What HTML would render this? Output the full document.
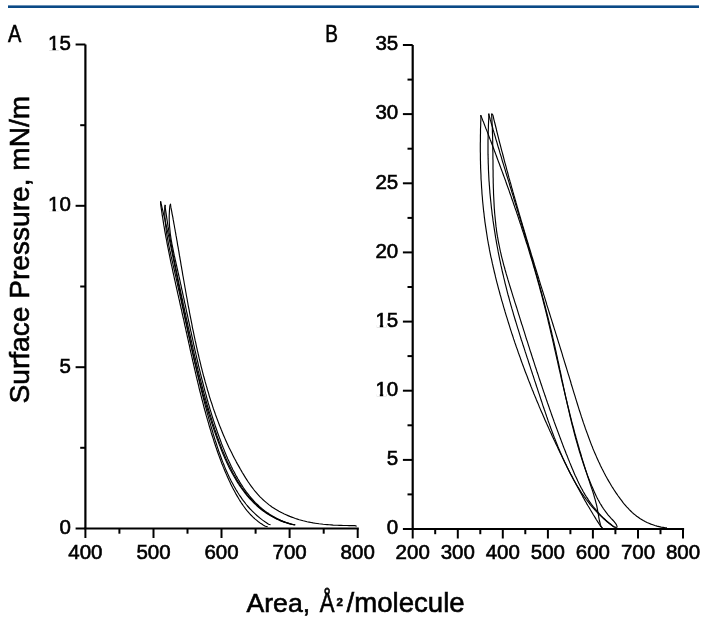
<!DOCTYPE html>
<html><head><meta charset="utf-8"><style>
html,body{margin:0;padding:0;background:#fff;width:709px;height:626px;overflow:hidden}
svg{display:block;font-family:"Liberation Sans",sans-serif;will-change:transform}
text{stroke:#000;stroke-width:0.6px}
.t{stroke-width:0.3px}
</style></head><body>
<svg width="709" height="626" viewBox="0 0 709 626">
<rect x="8" y="5.4" width="691" height="2.6" fill="#0b4a86"/>
<text transform="translate(7.9 41.7) scale(0.86 1)" font-size="23.2">A</text>
<text transform="translate(325.2 41.7) scale(0.82 1)" font-size="23.2">B</text>
<path d="M85.4 44.5 V528.5" stroke="#000" stroke-width="2.2" fill="none"/>
<path d="M84.3 528.5 H358.8" stroke="#000" stroke-width="2.2" fill="none"/>
<path d="M85.4 528.5 V538.0" stroke="#000" stroke-width="2" />
<path d="M153.5 528.5 V538.0" stroke="#000" stroke-width="2" />
<path d="M221.5 528.5 V538.0" stroke="#000" stroke-width="2" />
<path d="M289.6 528.5 V538.0" stroke="#000" stroke-width="2" />
<path d="M357.7 528.5 V538.0" stroke="#000" stroke-width="2" />
<path d="M119.4 528.5 V533.7" stroke="#000" stroke-width="2" />
<path d="M187.5 528.5 V533.7" stroke="#000" stroke-width="2" />
<path d="M255.6 528.5 V533.7" stroke="#000" stroke-width="2" />
<path d="M323.7 528.5 V533.7" stroke="#000" stroke-width="2" />
<path d="M85.4 528.5 H75.6" stroke="#000" stroke-width="2" />
<path d="M85.4 367.2 H75.6" stroke="#000" stroke-width="2" />
<path d="M85.4 205.8 H75.6" stroke="#000" stroke-width="2" />
<path d="M85.4 44.5 H75.6" stroke="#000" stroke-width="2" />
<path d="M85.4 447.8 H80.2" stroke="#000" stroke-width="2" />
<path d="M85.4 286.5 H80.2" stroke="#000" stroke-width="2" />
<path d="M85.4 125.2 H80.2" stroke="#000" stroke-width="2" />
<text x="85.4" y="559.3" font-size="20.5" text-anchor="middle">400</text>
<text x="153.5" y="559.3" font-size="20.5" text-anchor="middle">500</text>
<text x="221.5" y="559.3" font-size="20.5" text-anchor="middle">600</text>
<text x="289.6" y="559.3" font-size="20.5" text-anchor="middle">700</text>
<text x="357.7" y="559.3" font-size="20.5" text-anchor="middle">800</text>
<text x="70.9" y="533.8" font-size="20.5" text-anchor="end">0</text>
<text x="70.9" y="372.5" font-size="20.5" text-anchor="end">5</text>
<text x="70.9" y="211.1" font-size="20.5" text-anchor="end">10</text>
<rect x="48.9" y="208.6" width="3.6" height="3.2" fill="#fff"/>
<rect x="55.9" y="208.6" width="3.2" height="3.2" fill="#fff"/>
<text x="70.9" y="49.8" font-size="20.5" text-anchor="end">15</text>
<rect x="48.9" y="47.3" width="3.6" height="3.2" fill="#fff"/>
<rect x="55.9" y="47.3" width="3.2" height="3.2" fill="#fff"/>
<path d="M412.7 45.0 V529.0" stroke="#000" stroke-width="2.2" fill="none"/>
<path d="M411.6 529.0 H684.1" stroke="#000" stroke-width="2.2" fill="none"/>
<path d="M412.7 529.0 V538.5" stroke="#000" stroke-width="2" />
<path d="M457.8 529.0 V538.5" stroke="#000" stroke-width="2" />
<path d="M502.8 529.0 V538.5" stroke="#000" stroke-width="2" />
<path d="M547.9 529.0 V538.5" stroke="#000" stroke-width="2" />
<path d="M592.9 529.0 V538.5" stroke="#000" stroke-width="2" />
<path d="M638.0 529.0 V538.5" stroke="#000" stroke-width="2" />
<path d="M683.0 529.0 V538.5" stroke="#000" stroke-width="2" />
<path d="M435.2 529.0 V534.2" stroke="#000" stroke-width="2" />
<path d="M480.3 529.0 V534.2" stroke="#000" stroke-width="2" />
<path d="M525.3 529.0 V534.2" stroke="#000" stroke-width="2" />
<path d="M570.4 529.0 V534.2" stroke="#000" stroke-width="2" />
<path d="M615.4 529.0 V534.2" stroke="#000" stroke-width="2" />
<path d="M660.5 529.0 V534.2" stroke="#000" stroke-width="2" />
<path d="M412.7 529.0 H402.9" stroke="#000" stroke-width="2" />
<path d="M412.7 459.9 H402.9" stroke="#000" stroke-width="2" />
<path d="M412.7 390.7 H402.9" stroke="#000" stroke-width="2" />
<path d="M412.7 321.6 H402.9" stroke="#000" stroke-width="2" />
<path d="M412.7 252.4 H402.9" stroke="#000" stroke-width="2" />
<path d="M412.7 183.3 H402.9" stroke="#000" stroke-width="2" />
<path d="M412.7 114.1 H402.9" stroke="#000" stroke-width="2" />
<path d="M412.7 45.0 H402.9" stroke="#000" stroke-width="2" />
<path d="M412.7 494.4 H407.5" stroke="#000" stroke-width="2" />
<path d="M412.7 425.3 H407.5" stroke="#000" stroke-width="2" />
<path d="M412.7 356.1 H407.5" stroke="#000" stroke-width="2" />
<path d="M412.7 287.0 H407.5" stroke="#000" stroke-width="2" />
<path d="M412.7 217.9 H407.5" stroke="#000" stroke-width="2" />
<path d="M412.7 148.7 H407.5" stroke="#000" stroke-width="2" />
<path d="M412.7 79.6 H407.5" stroke="#000" stroke-width="2" />
<text x="412.7" y="559.3" font-size="20.5" text-anchor="middle">200</text>
<text x="457.8" y="559.3" font-size="20.5" text-anchor="middle">300</text>
<text x="502.8" y="559.3" font-size="20.5" text-anchor="middle">400</text>
<text x="547.9" y="559.3" font-size="20.5" text-anchor="middle">500</text>
<text x="592.9" y="559.3" font-size="20.5" text-anchor="middle">600</text>
<text x="638.0" y="559.3" font-size="20.5" text-anchor="middle">700</text>
<text x="683.0" y="559.3" font-size="20.5" text-anchor="middle">800</text>
<text x="398.2" y="534.3" font-size="20.5" text-anchor="end">0</text>
<text x="398.2" y="465.2" font-size="20.5" text-anchor="end">5</text>
<text x="398.2" y="396.0" font-size="20.5" text-anchor="end">10</text>
<rect x="376.2" y="393.5" width="3.6" height="3.2" fill="#fff"/>
<rect x="383.2" y="393.5" width="3.2" height="3.2" fill="#fff"/>
<text x="398.2" y="326.9" font-size="20.5" text-anchor="end">15</text>
<rect x="376.2" y="324.4" width="3.6" height="3.2" fill="#fff"/>
<rect x="383.2" y="324.4" width="3.2" height="3.2" fill="#fff"/>
<text x="398.2" y="257.7" font-size="20.5" text-anchor="end">20</text>
<text x="398.2" y="188.6" font-size="20.5" text-anchor="end">25</text>
<text x="398.2" y="119.4" font-size="20.5" text-anchor="end">30</text>
<text x="398.2" y="50.3" font-size="20.5" text-anchor="end">35</text>
<text x="246.5" y="611.8" font-size="26.6">Area,</text>
<text transform="translate(319.8 611.8) scale(0.82 1)" font-size="27">Å</text>
<text x="336.6" y="605.6" font-size="11.5" font-weight="bold">2</text>
<text x="346.6" y="611.8" font-size="27.6">/molecule</text>
<text transform="translate(29 403.4) rotate(-90)" x="0" y="0" font-size="28.1">Surface Pressure, mN/m</text>
<path d="M480.7 115.1 L480.9 117.1 L480.9 119.1 L480.8 121.1 L480.7 123.2 L480.7 125.2 L480.6 127.2 L480.5 129.3 L480.5 131.3 L480.5 133.3 L480.4 135.3 L480.4 137.4 L480.4 139.4 L480.4 141.4 L480.3 143.4 L480.3 145.4 L480.3 147.5 L480.3 149.5 L480.3 151.5 L480.4 153.5 L480.4 155.5 L480.4 157.5 L480.4 159.6 L480.5 161.6 L480.5 163.6 L480.6 165.6 L480.6 167.6 L480.7 169.6 L480.8 171.6 L480.9 173.6 L481.0 175.7 L481.0 177.7 L481.1 179.7 L481.3 181.7 L481.4 183.7 L481.5 185.7 L481.6 187.7 L481.8 189.7 L481.9 191.7 L482.0 193.7 L482.2 195.7 L482.4 197.7 L482.5 199.7 L482.7 201.7 L482.9 203.7 L483.1 205.7 L483.3 207.7 L483.5 209.7 L483.7 211.7 L484.0 213.7 L484.2 215.7 L484.4 217.7 L484.7 219.6 L484.9 221.6 L485.2 223.6 L485.5 225.6 L485.8 227.6 L486.1 229.6 L486.4 231.6 L486.7 233.5 L487.0 235.5 L487.3 237.5 L487.6 239.5 L488.0 241.5 L488.3 243.4 L488.7 245.4 L489.1 247.4 L489.4 249.4 L489.8 251.3 L490.2 253.3 L490.6 255.3 L491.0 257.3 L491.5 259.2 L491.9 261.2 L492.3 263.2 L492.8 265.1 L493.2 267.1 L493.7 269.1 L494.1 271.0 L494.6 273.0 L495.1 274.9 L495.5 276.9 L496.0 278.9 L496.5 280.8 L497.0 282.8 L497.5 284.7 L498.0 286.7 L498.5 288.6 L499.1 290.6 L499.6 292.5 L500.1 294.5 L500.7 296.4 L501.2 298.3 L501.7 300.3 L502.3 302.2 L502.9 304.2 L503.4 306.1 L504.0 308.1 L504.6 310.0 L505.1 311.9 L505.7 313.9 L506.3 315.8 L506.9 317.7 L507.5 319.6 L508.1 321.6 L508.7 323.5 L509.3 325.4 L509.9 327.3 L510.5 329.3 L511.1 331.2 L511.7 333.1 L512.4 335.0 L513.0 336.9 L513.6 338.9 L514.3 340.8 L514.9 342.7 L515.6 344.6 L516.2 346.5 L516.9 348.4 L517.6 350.3 L518.2 352.2 L518.9 354.1 L519.6 356.0 L520.3 357.9 L520.9 359.8 L521.6 361.7 L522.3 363.6 L523.0 365.5 L523.7 367.4 L524.4 369.3 L525.1 371.2 L525.8 373.1 L526.6 374.9 L527.3 376.8 L528.0 378.7 L528.7 380.6 L529.5 382.5 L530.2 384.3 L530.9 386.2 L531.7 388.1 L532.4 390.0 L533.2 391.8 L533.9 393.7 L534.7 395.6 L535.5 397.4 L536.2 399.3 L537.0 401.2 L537.8 403.0 L538.6 404.9 L539.3 406.7 L540.1 408.6 L540.9 410.4 L541.7 412.3 L542.5 414.1 L543.3 416.0 L544.1 417.8 L544.9 419.7 L545.7 421.5 L546.5 423.3 L547.4 425.2 L548.2 427.0 L549.0 428.9 L549.8 430.7 L550.7 432.5 L551.5 434.3 L552.3 436.2 L553.2 438.0 L554.0 439.8 L554.9 441.6 L555.7 443.5 L556.6 445.3 L557.5 447.1 L558.3 448.9 L559.2 450.7 L560.0 452.5 L560.9 454.3 L561.8 456.1 L562.7 457.9 L563.6 459.7 L564.4 461.5 L565.3 463.3 L566.2 465.1 L567.1 466.9 L568.0 468.7 L568.9 470.5 L569.8 472.3 L570.7 474.1 L571.7 475.8 L572.6 477.6 L573.5 479.4 L574.4 481.2 L575.4 482.9 L576.3 484.7 L577.3 486.5 L578.2 488.3 L579.2 490.0 L580.1 491.8 L581.1 493.5 L582.1 495.3 L583.0 497.1 L584.0 498.8 L585.0 500.6 L586.0 502.3 L587.0 504.1 L588.0 505.8 L589.1 507.5 L590.1 509.3 L591.1 511.0 L592.2 512.8 L593.2 514.5 L594.3 516.2 L595.3 517.9 L596.4 519.7 L597.5 521.4 L598.6 523.1 L599.7 524.8 L600.8 526.6 L602.4 527.8" fill="none" stroke="#000" stroke-width="1.15" stroke-linejoin="round"/>
<path d="M488.7 113.6 L488.9 115.4 L488.8 117.5 L488.7 119.6 L488.6 121.6 L488.5 123.7 L488.4 125.8 L488.4 127.8 L488.3 129.9 L488.2 131.9 L488.2 134.0 L488.1 136.0 L488.1 138.1 L488.0 140.1 L488.0 142.2 L488.0 144.2 L488.0 146.2 L488.0 148.3 L488.0 150.3 L488.0 152.3 L488.0 154.4 L488.1 156.4 L488.1 158.4 L488.2 160.4 L488.2 162.5 L488.3 164.5 L488.4 166.5 L488.4 168.5 L488.5 170.5 L488.6 172.5 L488.7 174.6 L488.8 176.6 L488.9 178.6 L489.0 180.6 L489.2 182.6 L489.3 184.6 L489.5 186.6 L489.6 188.6 L489.8 190.6 L489.9 192.6 L490.1 194.6 L490.3 196.6 L490.5 198.6 L490.7 200.6 L490.9 202.5 L491.1 204.5 L491.3 206.5 L491.5 208.5 L491.8 210.5 L492.0 212.5 L492.2 214.5 L492.5 216.4 L492.8 218.4 L493.0 220.4 L493.3 222.4 L493.6 224.3 L493.9 226.3 L494.2 228.3 L494.5 230.3 L494.8 232.2 L495.1 234.2 L495.4 236.2 L495.7 238.2 L496.1 240.1 L496.4 242.1 L496.8 244.1 L497.1 246.0 L497.5 248.0 L497.9 250.0 L498.2 251.9 L498.6 253.9 L499.0 255.8 L499.4 257.8 L499.8 259.8 L500.2 261.7 L500.6 263.7 L501.0 265.7 L501.5 267.6 L501.9 269.6 L502.3 271.5 L502.8 273.5 L503.3 275.5 L503.7 277.4 L504.2 279.4 L504.7 281.3 L505.1 283.3 L505.6 285.2 L506.1 287.2 L506.6 289.2 L507.1 291.1 L507.6 293.1 L508.1 295.0 L508.7 297.0 L509.2 298.9 L509.7 300.9 L510.3 302.9 L510.8 304.8 L511.4 306.8 L511.9 308.7 L512.5 310.7 L513.1 312.6 L513.6 314.6 L514.2 316.5 L514.8 318.5 L515.4 320.5 L516.0 322.4 L516.6 324.4 L517.2 326.3 L517.8 328.3 L518.4 330.2 L519.0 332.2 L519.6 334.1 L520.2 336.1 L520.8 338.0 L521.4 340.0 L522.1 341.9 L522.7 343.9 L523.3 345.8 L524.0 347.8 L524.6 349.7 L525.2 351.7 L525.9 353.6 L526.5 355.6 L527.1 357.5 L527.8 359.4 L528.4 361.4 L529.0 363.3 L529.7 365.3 L530.3 367.2 L530.9 369.1 L531.6 371.1 L532.2 373.0 L532.8 374.9 L533.5 376.8 L534.1 378.8 L534.7 380.7 L535.4 382.6 L536.0 384.5 L536.6 386.5 L537.3 388.4 L537.9 390.3 L538.5 392.2 L539.2 394.1 L539.8 396.0 L540.4 397.9 L541.0 399.8 L541.7 401.7 L542.3 403.7 L542.9 405.6 L543.6 407.5 L544.2 409.3 L544.9 411.2 L545.5 413.1 L546.2 415.0 L546.8 416.9 L547.5 418.8 L548.1 420.7 L548.8 422.6 L549.5 424.4 L550.1 426.3 L550.8 428.2 L551.5 430.0 L552.2 431.9 L552.9 433.8 L553.6 435.6 L554.3 437.5 L555.1 439.4 L555.8 441.2 L556.5 443.1 L557.3 444.9 L558.0 446.7 L558.8 448.6 L559.6 450.4 L560.3 452.3 L561.1 454.1 L561.9 455.9 L562.7 457.7 L563.5 459.6 L564.4 461.4 L565.2 463.2 L566.1 465.0 L566.9 466.8 L567.8 468.6 L568.7 470.4 L569.6 472.2 L570.5 474.0 L571.5 475.8 L572.4 477.5 L573.4 479.3 L574.4 481.0 L575.4 482.8 L576.4 484.5 L577.4 486.2 L578.5 487.9 L579.5 489.6 L580.6 491.3 L581.7 493.0 L582.8 494.6 L584.0 496.3 L585.2 497.9 L586.3 499.5 L587.6 501.1 L588.8 502.7 L590.0 504.3 L591.3 505.8 L592.6 507.4 L594.0 508.9 L595.3 510.4 L596.7 511.9 L598.1 513.3 L599.5 514.8 L601.0 516.2 L602.5 517.6 L604.0 519.0 L605.5 520.3 L607.1 521.7 L608.7 523.0 L610.3 524.3 L612.0 525.6 L613.7 526.8 L615.7 527.3" fill="none" stroke="#000" stroke-width="1.15" stroke-linejoin="round"/>
<path d="M491.6 113.6 L491.7 115.4 L491.8 117.5 L491.9 119.5 L492.0 121.6 L492.1 123.7 L492.2 125.7 L492.3 127.8 L492.4 129.9 L492.4 131.9 L492.5 134.0 L492.6 136.0 L492.6 138.1 L492.7 140.1 L492.7 142.2 L492.7 144.2 L492.8 146.3 L492.8 148.3 L492.8 150.4 L492.9 152.4 L492.9 154.4 L492.9 156.5 L492.9 158.5 L493.0 160.5 L493.0 162.5 L493.0 164.6 L493.0 166.6 L493.0 168.6 L493.1 170.6 L493.1 172.6 L493.1 174.6 L493.1 176.6 L493.2 178.7 L493.2 180.7 L493.2 182.7 L493.3 184.7 L493.3 186.7 L493.4 188.7 L493.5 190.7 L493.5 192.7 L493.6 194.7 L493.7 196.7 L493.8 198.6 L493.9 200.6 L494.0 202.6 L494.1 204.6 L494.2 206.6 L494.3 208.6 L494.5 210.6 L494.6 212.5 L494.8 214.5 L495.0 216.5 L495.2 218.5 L495.4 220.5 L495.6 222.4 L495.8 224.4 L496.0 226.4 L496.3 228.3 L496.5 230.3 L496.8 232.3 L497.1 234.3 L497.4 236.2 L497.8 238.2 L498.1 240.1 L498.5 242.1 L498.9 244.1 L499.3 246.0 L499.7 248.0 L500.1 250.0 L500.5 251.9 L501.0 253.9 L501.4 255.8 L501.9 257.8 L502.4 259.7 L502.9 261.7 L503.4 263.6 L503.9 265.6 L504.5 267.5 L505.0 269.5 L505.6 271.5 L506.1 273.4 L506.7 275.4 L507.3 277.3 L507.8 279.2 L508.4 281.2 L509.0 283.1 L509.6 285.1 L510.2 287.0 L510.8 289.0 L511.4 290.9 L512.0 292.9 L512.6 294.8 L513.2 296.8 L513.8 298.7 L514.4 300.7 L515.0 302.6 L515.7 304.6 L516.3 306.5 L516.9 308.4 L517.5 310.4 L518.1 312.3 L518.7 314.3 L519.3 316.2 L519.9 318.2 L520.5 320.1 L521.1 322.0 L521.7 324.0 L522.4 325.9 L523.0 327.9 L523.6 329.8 L524.2 331.7 L524.8 333.7 L525.4 335.6 L526.0 337.6 L526.6 339.5 L527.3 341.4 L527.9 343.4 L528.5 345.3 L529.1 347.2 L529.7 349.2 L530.3 351.1 L531.0 353.0 L531.6 355.0 L532.2 356.9 L532.8 358.8 L533.5 360.8 L534.1 362.7 L534.7 364.6 L535.3 366.5 L536.0 368.5 L536.6 370.4 L537.2 372.3 L537.9 374.2 L538.5 376.1 L539.1 378.1 L539.8 380.0 L540.4 381.9 L541.0 383.8 L541.7 385.7 L542.3 387.6 L543.0 389.6 L543.6 391.5 L544.3 393.4 L544.9 395.3 L545.6 397.2 L546.2 399.1 L546.9 401.0 L547.5 402.9 L548.2 404.8 L548.9 406.7 L549.5 408.6 L550.2 410.5 L550.9 412.4 L551.5 414.3 L552.2 416.2 L552.9 418.1 L553.6 420.0 L554.2 421.9 L554.9 423.7 L555.6 425.6 L556.3 427.5 L557.0 429.4 L557.7 431.3 L558.4 433.1 L559.1 435.0 L559.8 436.9 L560.5 438.8 L561.2 440.6 L561.9 442.5 L562.6 444.4 L563.3 446.2 L564.0 448.1 L564.8 450.0 L565.5 451.8 L566.2 453.7 L567.0 455.5 L567.7 457.4 L568.4 459.2 L569.2 461.1 L569.9 462.9 L570.7 464.8 L571.4 466.6 L572.2 468.4 L573.0 470.3 L573.7 472.1 L574.5 473.9 L575.3 475.7 L576.2 477.5 L577.0 479.3 L577.8 481.1 L578.7 482.9 L579.6 484.7 L580.5 486.4 L581.4 488.2 L582.4 489.9 L583.3 491.7 L584.3 493.4 L585.3 495.1 L586.4 496.8 L587.5 498.4 L588.5 500.1 L589.7 501.8 L590.8 503.4 L592.0 505.0 L593.2 506.6 L594.5 508.2 L595.8 509.7 L597.1 511.3 L598.5 512.8 L599.9 514.3 L601.3 515.8 L602.8 517.3 L604.3 518.7 L605.9 520.2 L607.5 521.6 L609.1 523.0 L610.8 524.3 L612.5 525.7 L614.3 527.0 L616.0 527.5" fill="none" stroke="#000" stroke-width="1.15" stroke-linejoin="round"/>
<path d="M480.7 115.1 L481.5 117.1 L482.2 118.9 L482.9 120.8 L483.7 122.6 L484.4 124.5 L485.1 126.4 L485.8 128.2 L486.6 130.1 L487.3 131.9 L488.0 133.8 L488.7 135.7 L489.4 137.5 L490.1 139.4 L490.9 141.3 L491.6 143.2 L492.3 145.0 L493.0 146.9 L493.7 148.8 L494.4 150.7 L495.1 152.5 L495.8 154.4 L496.5 156.3 L497.2 158.2 L497.9 160.1 L498.6 162.0 L499.3 163.8 L500.0 165.7 L500.7 167.6 L501.4 169.5 L502.1 171.4 L502.8 173.3 L503.5 175.2 L504.2 177.1 L504.9 179.0 L505.6 180.9 L506.2 182.8 L506.9 184.7 L507.6 186.6 L508.3 188.5 L509.0 190.4 L509.6 192.3 L510.3 194.2 L511.0 196.1 L511.6 198.0 L512.3 200.0 L513.0 201.9 L513.6 203.8 L514.3 205.7 L514.9 207.6 L515.6 209.5 L516.3 211.4 L516.9 213.4 L517.6 215.3 L518.2 217.2 L518.8 219.1 L519.5 221.1 L520.1 223.0 L520.8 224.9 L521.4 226.8 L522.0 228.8 L522.6 230.7 L523.3 232.6 L523.9 234.5 L524.5 236.5 L525.1 238.4 L525.7 240.3 L526.3 242.3 L527.0 244.2 L527.6 246.1 L528.2 248.1 L528.8 250.0 L529.3 251.9 L529.9 253.9 L530.5 255.8 L531.1 257.8 L531.7 259.7 L532.3 261.6 L532.9 263.6 L533.4 265.5 L534.0 267.5 L534.6 269.4 L535.1 271.4 L535.7 273.3 L536.2 275.2 L536.8 277.2 L537.3 279.1 L537.9 281.1 L538.4 283.0 L539.0 285.0 L539.5 286.9 L540.0 288.9 L540.5 290.8 L541.1 292.8 L541.6 294.7 L542.1 296.7 L542.6 298.6 L543.1 300.6 L543.6 302.5 L544.1 304.5 L544.6 306.4 L545.1 308.4 L545.6 310.3 L546.1 312.3 L546.5 314.2 L547.0 316.2 L547.5 318.2 L548.0 320.1 L548.4 322.1 L548.9 324.0 L549.4 326.0 L549.8 327.9 L550.3 329.9 L550.7 331.9 L551.2 333.8 L551.7 335.8 L552.1 337.7 L552.6 339.7 L553.0 341.6 L553.5 343.6 L553.9 345.6 L554.3 347.5 L554.8 349.5 L555.2 351.4 L555.7 353.4 L556.1 355.3 L556.6 357.3 L557.0 359.3 L557.5 361.2 L557.9 363.2 L558.3 365.1 L558.8 367.1 L559.2 369.1 L559.7 371.0 L560.1 373.0 L560.6 374.9 L561.0 376.9 L561.4 378.8 L561.9 380.8 L562.3 382.8 L562.8 384.7 L563.3 386.7 L563.7 388.6 L564.2 390.6 L564.6 392.5 L565.1 394.5 L565.5 396.5 L566.0 398.4 L566.5 400.4 L567.0 402.3 L567.4 404.3 L567.9 406.2 L568.4 408.2 L568.9 410.1 L569.4 412.1 L569.8 414.0 L570.3 416.0 L570.8 418.0 L571.3 419.9 L571.8 421.9 L572.3 423.8 L572.9 425.8 L573.4 427.7 L573.9 429.7 L574.4 431.6 L574.9 433.6 L575.5 435.5 L576.0 437.5 L576.6 439.4 L577.1 441.3 L577.7 443.3 L578.2 445.2 L578.8 447.2 L579.3 449.1 L579.9 451.1 L580.5 453.0 L581.1 455.0 L581.6 456.9 L582.2 458.8 L582.8 460.8 L583.4 462.7 L584.0 464.7 L584.6 466.6 L585.2 468.5 L585.8 470.5 L586.4 472.4 L587.1 474.4 L587.7 476.3 L588.3 478.2 L589.0 480.2 L589.6 482.1 L590.2 484.0 L590.9 486.0 L591.5 487.9 L592.2 489.8 L592.8 491.7 L593.4 493.7 L594.0 495.6 L594.5 497.5 L595.1 499.4 L595.6 501.4 L596.1 503.3 L596.6 505.2 L597.0 507.1 L597.4 509.1 L597.7 511.0 L598.1 512.9 L598.4 514.8 L598.7 516.7 L599.0 518.6 L599.4 520.5 L599.9 522.5 L600.4 524.4 L601.0 526.3 L602.4 528.0" fill="none" stroke="#000" stroke-width="1.15" stroke-linejoin="round"/>
<path d="M488.7 113.6 L489.1 115.6 L489.7 117.5 L490.2 119.5 L490.8 121.4 L491.3 123.3 L491.9 125.3 L492.5 127.2 L493.0 129.2 L493.6 131.1 L494.1 133.0 L494.7 135.0 L495.3 136.9 L495.8 138.8 L496.4 140.8 L497.0 142.7 L497.5 144.6 L498.1 146.6 L498.7 148.5 L499.3 150.4 L499.8 152.4 L500.4 154.3 L501.0 156.2 L501.6 158.1 L502.1 160.1 L502.7 162.0 L503.3 163.9 L503.9 165.8 L504.5 167.8 L505.1 169.7 L505.6 171.6 L506.2 173.5 L506.8 175.5 L507.4 177.4 L508.0 179.3 L508.6 181.2 L509.2 183.1 L509.7 185.1 L510.3 187.0 L510.9 188.9 L511.5 190.8 L512.1 192.8 L512.7 194.7 L513.3 196.6 L513.8 198.5 L514.4 200.4 L515.0 202.4 L515.6 204.3 L516.2 206.2 L516.8 208.1 L517.4 210.0 L518.0 212.0 L518.5 213.9 L519.1 215.8 L519.7 217.7 L520.3 219.6 L520.9 221.6 L521.5 223.5 L522.0 225.4 L522.6 227.3 L523.2 229.3 L523.8 231.2 L524.4 233.1 L524.9 235.0 L525.5 236.9 L526.1 238.9 L526.7 240.8 L527.2 242.7 L527.8 244.6 L528.4 246.6 L528.9 248.5 L529.5 250.4 L530.1 252.4 L530.6 254.3 L531.2 256.2 L531.8 258.1 L532.3 260.1 L532.9 262.0 L533.5 263.9 L534.0 265.9 L534.6 267.8 L535.1 269.7 L535.7 271.7 L536.2 273.6 L536.8 275.5 L537.3 277.5 L537.8 279.4 L538.4 281.4 L538.9 283.3 L539.5 285.2 L540.0 287.2 L540.5 289.1 L541.1 291.1 L541.6 293.0 L542.1 295.0 L542.6 296.9 L543.2 298.9 L543.7 300.8 L544.2 302.8 L544.7 304.7 L545.2 306.7 L545.7 308.6 L546.2 310.6 L546.7 312.5 L547.2 314.5 L547.7 316.5 L548.2 318.4 L548.7 320.4 L549.2 322.4 L549.7 324.3 L550.1 326.3 L550.6 328.3 L551.1 330.2 L551.6 332.2 L552.0 334.2 L552.5 336.1 L552.9 338.1 L553.4 340.1 L553.9 342.1 L554.3 344.1 L554.7 346.0 L555.2 348.0 L555.6 350.0 L556.1 352.0 L556.5 354.0 L556.9 356.0 L557.4 358.0 L557.8 360.0 L558.2 362.0 L558.7 363.9 L559.1 365.9 L559.5 367.9 L559.9 369.9 L560.4 371.9 L560.8 373.9 L561.2 375.9 L561.6 377.9 L562.0 379.9 L562.5 381.9 L562.9 383.9 L563.3 385.8 L563.7 387.8 L564.2 389.8 L564.6 391.8 L565.0 393.8 L565.5 395.8 L565.9 397.8 L566.3 399.7 L566.8 401.7 L567.2 403.7 L567.7 405.7 L568.1 407.6 L568.6 409.6 L569.0 411.6 L569.5 413.6 L569.9 415.5 L570.4 417.5 L570.9 419.4 L571.3 421.4 L571.8 423.3 L572.3 425.3 L572.8 427.2 L573.3 429.2 L573.8 431.1 L574.3 433.1 L574.8 435.0 L575.3 436.9 L575.8 438.9 L576.4 440.8 L576.9 442.7 L577.5 444.6 L578.0 446.5 L578.6 448.4 L579.1 450.4 L579.7 452.3 L580.3 454.1 L580.9 456.0 L581.5 457.9 L582.1 459.8 L582.7 461.7 L583.3 463.5 L583.9 465.4 L584.6 467.3 L585.2 469.1 L585.9 471.0 L586.6 472.8 L587.2 474.7 L587.9 476.5 L588.6 478.3 L589.3 480.1 L590.1 481.9 L590.8 483.7 L591.5 485.5 L592.3 487.3 L593.1 489.1 L593.9 490.9 L594.7 492.7 L595.5 494.5 L596.3 496.2 L597.2 498.0 L598.1 499.7 L599.1 501.4 L600.0 503.2 L601.1 504.9 L602.1 506.6 L603.2 508.3 L604.4 510.0 L605.6 511.7 L606.9 513.4 L608.2 515.1 L609.6 516.7 L611.1 518.4 L612.7 520.0 L614.2 521.7 L615.5 523.3 L616.5 524.9 L617.1 526.6 L616.5 528.0" fill="none" stroke="#000" stroke-width="1.15" stroke-linejoin="round"/>
<path d="M491.6 113.6 L492.9 115.1 L493.4 117.1 L493.8 119.1 L494.3 121.1 L494.8 123.0 L495.3 125.0 L495.8 127.0 L496.3 129.0 L496.7 131.0 L497.2 132.9 L497.7 134.9 L498.2 136.9 L498.7 138.8 L499.2 140.8 L499.7 142.8 L500.2 144.7 L500.7 146.7 L501.2 148.6 L501.7 150.6 L502.3 152.6 L502.8 154.5 L503.3 156.5 L503.8 158.4 L504.3 160.4 L504.8 162.3 L505.4 164.3 L505.9 166.2 L506.4 168.2 L506.9 170.1 L507.5 172.0 L508.0 174.0 L508.5 175.9 L509.0 177.9 L509.6 179.8 L510.1 181.7 L510.7 183.7 L511.2 185.6 L511.7 187.5 L512.3 189.5 L512.8 191.4 L513.4 193.3 L513.9 195.3 L514.5 197.2 L515.0 199.1 L515.6 201.0 L516.1 203.0 L516.7 204.9 L517.2 206.8 L517.8 208.7 L518.3 210.7 L518.9 212.6 L519.4 214.5 L520.0 216.4 L520.6 218.3 L521.1 220.3 L521.7 222.2 L522.3 224.1 L522.8 226.0 L523.4 227.9 L524.0 229.8 L524.5 231.7 L525.1 233.7 L525.7 235.6 L526.2 237.5 L526.8 239.4 L527.4 241.3 L528.0 243.2 L528.5 245.1 L529.1 247.1 L529.7 249.0 L530.3 250.9 L530.9 252.8 L531.4 254.7 L532.0 256.6 L532.6 258.5 L533.2 260.4 L533.8 262.3 L534.3 264.2 L534.9 266.2 L535.5 268.1 L536.1 270.0 L536.7 271.9 L537.3 273.8 L537.9 275.7 L538.5 277.6 L539.0 279.5 L539.6 281.4 L540.2 283.3 L540.8 285.3 L541.4 287.2 L542.0 289.1 L542.6 291.0 L543.2 292.9 L543.8 294.8 L544.4 296.7 L545.0 298.6 L545.6 300.6 L546.2 302.5 L546.7 304.4 L547.3 306.3 L547.9 308.2 L548.5 310.1 L549.1 312.0 L549.7 314.0 L550.3 315.9 L550.9 317.8 L551.5 319.7 L552.1 321.6 L552.7 323.5 L553.3 325.5 L553.9 327.4 L554.5 329.3 L555.1 331.2 L555.7 333.1 L556.3 335.1 L556.9 337.0 L557.5 338.9 L558.1 340.8 L558.7 342.8 L559.3 344.7 L559.9 346.6 L560.5 348.6 L561.1 350.5 L561.7 352.4 L562.3 354.4 L562.8 356.3 L563.4 358.2 L564.0 360.2 L564.6 362.1 L565.2 364.0 L565.8 366.0 L566.4 367.9 L567.0 369.9 L567.6 371.8 L568.2 373.8 L568.8 375.7 L569.4 377.6 L570.0 379.6 L570.6 381.5 L571.1 383.5 L571.7 385.5 L572.3 387.4 L572.9 389.4 L573.5 391.3 L574.1 393.3 L574.7 395.2 L575.3 397.2 L575.9 399.1 L576.5 401.1 L577.1 403.0 L577.7 405.0 L578.3 406.9 L578.9 408.9 L579.5 410.8 L580.2 412.8 L580.8 414.7 L581.4 416.7 L582.1 418.6 L582.7 420.5 L583.3 422.4 L584.0 424.4 L584.7 426.3 L585.3 428.2 L586.0 430.1 L586.7 432.0 L587.4 433.9 L588.1 435.8 L588.8 437.7 L589.5 439.6 L590.2 441.5 L590.9 443.4 L591.6 445.3 L592.4 447.1 L593.1 449.0 L593.9 450.9 L594.7 452.7 L595.5 454.5 L596.3 456.4 L597.1 458.2 L597.9 460.0 L598.7 461.8 L599.6 463.6 L600.4 465.4 L601.3 467.2 L602.2 469.0 L603.1 470.7 L604.0 472.5 L604.9 474.2 L605.8 476.0 L606.8 477.7 L607.7 479.4 L608.7 481.1 L609.7 482.8 L610.7 484.5 L611.7 486.2 L612.8 487.9 L613.8 489.5 L614.9 491.2 L616.0 492.8 L617.1 494.4 L618.2 496.0 L619.4 497.6 L620.5 499.2 L621.7 500.7 L622.9 502.3 L624.1 503.8 L625.4 505.3 L626.7 506.8 L628.0 508.2 L629.3 509.6 L630.7 511.0 L632.1 512.4 L633.6 513.7 L635.1 514.9 L636.7 516.2 L638.3 517.3 L639.9 518.5 L641.6 519.5 L643.3 520.6 L645.1 521.6 L647.0 522.5 L648.9 523.3 L650.9 524.1 L652.9 524.8 L654.9 525.5 L657.0 526.1 L659.1 526.6 L661.1 527.1 L663.2 527.4 L665.3 527.7 L667.0 527.8" fill="none" stroke="#000" stroke-width="1.15" stroke-linejoin="round"/>
<path d="M170.5 203.8 L170.7 206.0 L171.0 207.9 L171.4 209.9 L171.8 211.8 L172.1 213.8 L172.5 215.7 L172.9 217.7 L173.2 219.7 L173.6 221.6 L173.9 223.6 L174.3 225.5 L174.6 227.5 L175.0 229.5 L175.3 231.4 L175.7 233.4 L176.0 235.4 L176.4 237.3 L176.7 239.3 L177.1 241.3 L177.4 243.3 L177.7 245.3 L178.1 247.2 L178.4 249.2 L178.8 251.2 L179.1 253.2 L179.4 255.2 L179.8 257.1 L180.1 259.1 L180.5 261.1 L180.8 263.1 L181.1 265.1 L181.5 267.1 L181.8 269.1 L182.2 271.1 L182.5 273.1 L182.8 275.1 L183.2 277.0 L183.5 279.0 L183.9 281.0 L184.2 283.0 L184.6 285.0 L184.9 287.0 L185.3 289.0 L185.6 291.0 L186.0 293.0 L186.3 295.0 L186.7 297.0 L187.1 299.0 L187.4 301.0 L187.8 303.0 L188.1 305.0 L188.5 306.9 L188.9 308.9 L189.3 310.9 L189.6 312.9 L190.0 314.9 L190.4 316.9 L190.8 318.9 L191.2 320.9 L191.6 322.9 L192.0 324.9 L192.3 326.8 L192.7 328.8 L193.2 330.8 L193.6 332.8 L194.0 334.8 L194.4 336.8 L194.8 338.7 L195.2 340.7 L195.7 342.7 L196.1 344.7 L196.5 346.6 L197.0 348.6 L197.4 350.6 L197.9 352.6 L198.3 354.5 L198.8 356.5 L199.2 358.4 L199.7 360.4 L200.2 362.4 L200.7 364.3 L201.1 366.3 L201.6 368.2 L202.1 370.2 L202.6 372.1 L203.1 374.1 L203.6 376.0 L204.2 378.0 L204.7 379.9 L205.2 381.9 L205.8 383.8 L206.3 385.7 L206.9 387.7 L207.4 389.6 L208.0 391.5 L208.6 393.4 L209.1 395.3 L209.7 397.3 L210.3 399.2 L210.9 401.1 L211.6 403.0 L212.2 404.9 L212.8 406.8 L213.4 408.7 L214.1 410.6 L214.8 412.5 L215.4 414.4 L216.1 416.3 L216.8 418.1 L217.5 420.0 L218.2 421.9 L218.9 423.8 L219.6 425.6 L220.4 427.5 L221.1 429.3 L221.9 431.2 L222.6 433.1 L223.4 434.9 L224.2 436.7 L225.0 438.6 L225.8 440.4 L226.6 442.2 L227.4 444.1 L228.3 445.9 L229.1 447.7 L230.0 449.5 L230.9 451.3 L231.8 453.1 L232.7 454.9 L233.6 456.7 L234.5 458.5 L235.5 460.3 L236.4 462.1 L237.4 463.9 L238.4 465.6 L239.4 467.4 L240.4 469.2 L241.4 470.9 L242.4 472.7 L243.5 474.4 L244.5 476.1 L245.6 477.9 L246.7 479.6 L247.8 481.3 L249.0 483.0 L250.1 484.7 L251.3 486.3 L252.5 487.9 L253.7 489.5 L255.0 491.1 L256.3 492.6 L257.6 494.2 L258.9 495.6 L260.3 497.1 L261.7 498.4 L263.1 499.8 L264.6 501.1 L266.1 502.4 L267.6 503.6 L269.1 504.9 L270.7 506.0 L272.3 507.2 L274.0 508.2 L275.6 509.3 L277.3 510.3 L279.0 511.3 L280.8 512.2 L282.5 513.1 L284.3 514.0 L286.1 514.8 L288.0 515.6 L289.8 516.4 L291.7 517.1 L293.6 517.8 L295.4 518.5 L297.4 519.1 L299.3 519.7 L301.2 520.2 L303.2 520.8 L305.2 521.2 L307.1 521.7 L309.1 522.1 L311.1 522.5 L313.1 522.9 L315.1 523.2 L317.1 523.5 L319.1 523.8 L321.1 524.0 L323.2 524.3 L325.2 524.5 L327.2 524.6 L329.2 524.8 L331.2 524.9 L333.2 525.1 L335.3 525.2 L337.3 525.3 L339.2 525.4 L341.2 525.4 L343.2 525.5 L345.2 525.5 L347.1 525.5 L349.1 525.6 L351.0 525.6 L352.9 525.6 L354.9 525.6 L356.7 526.2" fill="none" stroke="#000" stroke-width="1.15" stroke-linejoin="round"/>
<path d="M165.2 204.9 L165.1 206.9 L165.4 208.9 L165.7 210.9 L166.0 212.9 L166.3 214.9 L166.6 216.9 L166.9 218.9 L167.2 220.9 L167.5 222.9 L167.8 224.9 L168.1 226.9 L168.5 228.9 L168.8 230.9 L169.1 232.9 L169.5 234.9 L169.8 236.9 L170.2 238.8 L170.5 240.8 L170.9 242.8 L171.3 244.8 L171.6 246.8 L172.0 248.8 L172.4 250.8 L172.7 252.8 L173.1 254.7 L173.5 256.7 L173.9 258.7 L174.3 260.7 L174.7 262.7 L175.1 264.7 L175.5 266.6 L175.9 268.6 L176.3 270.6 L176.7 272.6 L177.1 274.6 L177.5 276.5 L177.9 278.5 L178.3 280.5 L178.7 282.5 L179.1 284.5 L179.5 286.4 L180.0 288.4 L180.4 290.4 L180.8 292.4 L181.2 294.3 L181.6 296.3 L182.1 298.3 L182.5 300.2 L182.9 302.2 L183.3 304.2 L183.8 306.2 L184.2 308.1 L184.6 310.1 L185.0 312.1 L185.5 314.0 L185.9 316.0 L186.3 318.0 L186.7 319.9 L187.2 321.9 L187.6 323.9 L188.0 325.8 L188.4 327.8 L188.9 329.8 L189.3 331.7 L189.7 333.7 L190.2 335.7 L190.6 337.6 L191.0 339.6 L191.5 341.5 L191.9 343.5 L192.3 345.5 L192.8 347.4 L193.2 349.4 L193.7 351.3 L194.1 353.3 L194.5 355.3 L195.0 357.2 L195.5 359.2 L195.9 361.1 L196.4 363.1 L196.8 365.0 L197.3 367.0 L197.8 369.0 L198.2 370.9 L198.7 372.9 L199.2 374.8 L199.7 376.8 L200.2 378.7 L200.7 380.7 L201.2 382.6 L201.7 384.6 L202.2 386.5 L202.7 388.5 L203.2 390.4 L203.7 392.4 L204.3 394.3 L204.8 396.3 L205.3 398.2 L205.9 400.2 L206.4 402.1 L207.0 404.1 L207.5 406.0 L208.1 408.0 L208.7 409.9 L209.3 411.9 L209.9 413.8 L210.5 415.7 L211.1 417.7 L211.7 419.6 L212.3 421.6 L212.9 423.5 L213.6 425.5 L214.2 427.4 L214.8 429.4 L215.5 431.3 L216.2 433.2 L216.8 435.2 L217.5 437.1 L218.2 439.0 L218.9 441.0 L219.6 442.9 L220.4 444.8 L221.1 446.7 L221.8 448.7 L222.6 450.6 L223.4 452.5 L224.2 454.4 L225.0 456.2 L225.8 458.1 L226.6 460.0 L227.4 461.8 L228.3 463.7 L229.2 465.5 L230.1 467.3 L231.0 469.1 L231.9 470.9 L232.8 472.7 L233.8 474.5 L234.8 476.2 L235.8 477.9 L236.8 479.7 L237.8 481.4 L238.9 483.0 L239.9 484.7 L241.0 486.3 L242.1 488.0 L243.3 489.6 L244.4 491.2 L245.6 492.7 L246.8 494.3 L248.1 495.8 L249.3 497.3 L250.6 498.7 L251.9 500.2 L253.3 501.6 L254.7 503.0 L256.1 504.3 L257.5 505.7 L258.9 507.0 L260.4 508.2 L262.0 509.5 L263.5 510.7 L265.1 511.8 L266.7 513.0 L268.4 514.1 L270.0 515.1 L271.8 516.1 L273.5 517.1 L275.3 518.1 L277.1 518.9 L279.0 519.8 L280.9 520.6 L282.8 521.4 L284.8 522.1 L286.8 522.8 L288.9 523.4 L291.0 524.0 L293.1 524.5 L295.2 524.6" fill="none" stroke="#000" stroke-width="1.15" stroke-linejoin="round"/>
<path d="M170.5 203.8 L169.9 205.8 L169.7 207.8 L169.5 209.8 L169.4 211.8 L169.3 213.8 L169.2 215.8 L169.2 217.8 L169.2 219.8 L169.3 221.8 L169.4 223.8 L169.5 225.8 L169.7 227.8 L169.9 229.8 L170.1 231.8 L170.3 233.8 L170.6 235.8 L170.9 237.8 L171.2 239.8 L171.6 241.8 L171.9 243.8 L172.3 245.7 L172.7 247.7 L173.1 249.7 L173.5 251.7 L173.9 253.7 L174.3 255.7 L174.8 257.7 L175.2 259.6 L175.7 261.6 L176.1 263.6 L176.6 265.6 L177.0 267.6 L177.5 269.6 L177.9 271.5 L178.3 273.5 L178.8 275.5 L179.2 277.5 L179.7 279.5 L180.1 281.4 L180.5 283.4 L181.0 285.4 L181.4 287.4 L181.8 289.3 L182.3 291.3 L182.7 293.3 L183.1 295.3 L183.5 297.2 L184.0 299.2 L184.4 301.2 L184.8 303.1 L185.3 305.1 L185.7 307.1 L186.1 309.0 L186.5 311.0 L186.9 313.0 L187.4 315.0 L187.8 316.9 L188.2 318.9 L188.6 320.8 L189.1 322.8 L189.5 324.8 L189.9 326.7 L190.3 328.7 L190.7 330.7 L191.2 332.6 L191.6 334.6 L192.0 336.6 L192.5 338.5 L192.9 340.5 L193.3 342.4 L193.7 344.4 L194.2 346.4 L194.6 348.3 L195.0 350.3 L195.5 352.2 L195.9 354.2 L196.4 356.1 L196.8 358.1 L197.3 360.1 L197.7 362.0 L198.2 364.0 L198.6 365.9 L199.1 367.9 L199.6 369.8 L200.1 371.8 L200.5 373.7 L201.0 375.7 L201.5 377.6 L202.0 379.6 L202.5 381.5 L203.0 383.5 L203.5 385.4 L204.0 387.4 L204.5 389.3 L205.0 391.3 L205.5 393.2 L206.1 395.2 L206.6 397.1 L207.1 399.1 L207.7 401.0 L208.2 403.0 L208.8 404.9 L209.4 406.8 L209.9 408.8 L210.5 410.7 L211.1 412.7 L211.7 414.6 L212.3 416.6 L212.9 418.5 L213.5 420.5 L214.2 422.4 L214.8 424.3 L215.4 426.3 L216.1 428.2 L216.8 430.2 L217.4 432.1 L218.1 434.0 L218.8 436.0 L219.5 437.9 L220.2 439.8 L220.9 441.8 L221.6 443.7 L222.4 445.6 L223.1 447.5 L223.9 449.4 L224.6 451.3 L225.4 453.2 L226.2 455.1 L227.0 457.0 L227.8 458.9 L228.7 460.7 L229.5 462.6 L230.4 464.4 L231.2 466.2 L232.1 468.1 L233.0 469.9 L233.9 471.6 L234.9 473.4 L235.8 475.2 L236.8 476.9 L237.8 478.7 L238.8 480.4 L239.8 482.1 L240.8 483.7 L241.9 485.4 L242.9 487.0 L244.0 488.7 L245.2 490.3 L246.3 491.9 L247.5 493.4 L248.7 494.9 L249.9 496.5 L251.2 498.0 L252.5 499.4 L253.8 500.9 L255.1 502.3 L256.5 503.7 L257.9 505.0 L259.3 506.4 L260.8 507.6 L262.3 508.9 L263.8 510.1 L265.4 511.4 L267.0 512.5 L268.7 513.6 L270.3 514.7 L272.0 515.8 L273.8 516.8 L275.6 517.8 L277.4 518.7 L279.2 519.6 L281.1 520.5 L283.1 521.3 L285.0 522.1 L287.0 522.8 L289.1 523.5 L291.2 524.1 L293.3 524.7 L295.2 524.9" fill="none" stroke="#000" stroke-width="1.15" stroke-linejoin="round"/>
<path d="M160.6 201.3 L160.6 203.3 L160.8 205.3 L161.1 207.3 L161.4 209.3 L161.7 211.3 L162.0 213.3 L162.2 215.2 L162.6 217.2 L162.9 219.2 L163.2 221.2 L163.5 223.2 L163.8 225.2 L164.2 227.2 L164.5 229.1 L164.8 231.1 L165.2 233.1 L165.6 235.1 L165.9 237.1 L166.3 239.0 L166.7 241.0 L167.0 243.0 L167.4 245.0 L167.8 247.0 L168.2 248.9 L168.6 250.9 L169.0 252.9 L169.4 254.9 L169.8 256.8 L170.2 258.8 L170.6 260.8 L171.0 262.8 L171.4 264.7 L171.9 266.7 L172.3 268.7 L172.7 270.6 L173.1 272.6 L173.6 274.6 L174.0 276.5 L174.4 278.5 L174.9 280.5 L175.3 282.4 L175.7 284.4 L176.2 286.4 L176.6 288.3 L177.1 290.3 L177.5 292.3 L177.9 294.2 L178.4 296.2 L178.8 298.2 L179.3 300.1 L179.7 302.1 L180.1 304.0 L180.6 306.0 L181.0 308.0 L181.5 309.9 L181.9 311.9 L182.3 313.8 L182.8 315.8 L183.2 317.8 L183.7 319.7 L184.1 321.7 L184.5 323.6 L184.9 325.6 L185.4 327.6 L185.8 329.5 L186.2 331.5 L186.7 333.4 L187.1 335.4 L187.5 337.3 L188.0 339.3 L188.4 341.2 L188.8 343.2 L189.3 345.2 L189.7 347.1 L190.1 349.1 L190.5 351.0 L191.0 353.0 L191.4 354.9 L191.9 356.9 L192.3 358.8 L192.7 360.8 L193.2 362.7 L193.6 364.7 L194.1 366.6 L194.5 368.6 L195.0 370.5 L195.4 372.5 L195.9 374.4 L196.3 376.4 L196.8 378.3 L197.3 380.3 L197.7 382.2 L198.2 384.2 L198.7 386.1 L199.1 388.1 L199.6 390.0 L200.1 392.0 L200.6 393.9 L201.1 395.9 L201.6 397.8 L202.1 399.8 L202.6 401.7 L203.1 403.7 L203.6 405.6 L204.1 407.6 L204.6 409.5 L205.2 411.5 L205.7 413.4 L206.2 415.4 L206.8 417.3 L207.3 419.2 L207.9 421.2 L208.5 423.1 L209.0 425.1 L209.6 427.0 L210.2 429.0 L210.8 430.9 L211.3 432.9 L211.9 434.8 L212.6 436.8 L213.2 438.7 L213.8 440.7 L214.4 442.6 L215.1 444.5 L215.7 446.5 L216.4 448.4 L217.0 450.3 L217.7 452.3 L218.4 454.2 L219.1 456.1 L219.8 458.0 L220.5 459.9 L221.2 461.8 L221.9 463.7 L222.7 465.6 L223.4 467.4 L224.2 469.3 L225.0 471.2 L225.8 473.0 L226.6 474.9 L227.4 476.7 L228.2 478.5 L229.0 480.3 L229.9 482.1 L230.7 483.9 L231.6 485.7 L232.5 487.5 L233.4 489.2 L234.4 491.0 L235.3 492.7 L236.2 494.4 L237.2 496.1 L238.2 497.8 L239.2 499.5 L240.2 501.1 L241.3 502.8 L242.4 504.4 L243.5 506.0 L244.6 507.5 L245.8 509.1 L247.0 510.6 L248.3 512.1 L249.6 513.6 L250.9 515.0 L252.3 516.4 L253.7 517.8 L255.2 519.1 L256.8 520.4 L258.4 521.7 L260.0 522.9 L261.8 524.1 L263.5 525.2 L265.4 526.3 L267.6 526.6" fill="none" stroke="#000" stroke-width="1.15" stroke-linejoin="round"/>
<path d="M165.2 204.9 L164.8 207.0 L164.7 209.0 L164.7 211.0 L164.8 213.0 L164.8 215.0 L164.9 217.0 L165.1 218.9 L165.2 220.9 L165.4 222.9 L165.6 224.9 L165.8 226.9 L166.1 228.9 L166.3 230.9 L166.6 232.9 L166.9 234.9 L167.3 236.8 L167.6 238.8 L168.0 240.8 L168.3 242.8 L168.7 244.8 L169.1 246.8 L169.5 248.7 L169.9 250.7 L170.4 252.7 L170.8 254.7 L171.2 256.7 L171.7 258.6 L172.1 260.6 L172.6 262.6 L173.0 264.6 L173.5 266.6 L173.9 268.5 L174.4 270.5 L174.8 272.5 L175.3 274.5 L175.7 276.4 L176.2 278.4 L176.6 280.4 L177.1 282.4 L177.5 284.3 L177.9 286.3 L178.4 288.3 L178.8 290.3 L179.3 292.2 L179.7 294.2 L180.1 296.2 L180.6 298.1 L181.0 300.1 L181.5 302.1 L181.9 304.0 L182.3 306.0 L182.8 308.0 L183.2 309.9 L183.6 311.9 L184.1 313.9 L184.5 315.9 L184.9 317.8 L185.4 319.8 L185.8 321.8 L186.2 323.7 L186.6 325.7 L187.1 327.6 L187.5 329.6 L187.9 331.6 L188.4 333.5 L188.8 335.5 L189.2 337.5 L189.7 339.4 L190.1 341.4 L190.5 343.4 L191.0 345.3 L191.4 347.3 L191.8 349.2 L192.3 351.2 L192.7 353.2 L193.2 355.1 L193.6 357.1 L194.0 359.1 L194.5 361.0 L194.9 363.0 L195.4 364.9 L195.8 366.9 L196.3 368.9 L196.7 370.8 L197.2 372.8 L197.7 374.7 L198.1 376.7 L198.6 378.7 L199.1 380.6 L199.5 382.6 L200.0 384.5 L200.5 386.5 L201.0 388.4 L201.4 390.4 L201.9 392.4 L202.4 394.3 L202.9 396.3 L203.4 398.2 L203.9 400.2 L204.4 402.2 L204.9 404.1 L205.4 406.1 L206.0 408.0 L206.5 410.0 L207.0 411.9 L207.5 413.9 L208.1 415.9 L208.6 417.8 L209.2 419.8 L209.7 421.7 L210.3 423.7 L210.8 425.7 L211.4 427.6 L212.0 429.6 L212.6 431.5 L213.1 433.5 L213.7 435.4 L214.3 437.4 L214.9 439.3 L215.5 441.3 L216.2 443.2 L216.8 445.2 L217.4 447.1 L218.1 449.1 L218.7 451.0 L219.4 452.9 L220.1 454.8 L220.8 456.8 L221.5 458.7 L222.2 460.6 L222.9 462.4 L223.7 464.3 L224.4 466.2 L225.2 468.1 L226.0 469.9 L226.8 471.8 L227.6 473.6 L228.5 475.4 L229.3 477.2 L230.2 479.0 L231.1 480.8 L232.0 482.5 L233.0 484.3 L233.9 486.0 L234.9 487.7 L235.9 489.5 L236.9 491.1 L237.9 492.8 L239.0 494.5 L240.1 496.1 L241.2 497.7 L242.3 499.3 L243.5 500.9 L244.7 502.4 L245.9 504.0 L247.1 505.5 L248.4 507.0 L249.7 508.5 L251.1 509.9 L252.5 511.3 L253.9 512.7 L255.4 514.1 L256.9 515.5 L258.4 516.8 L260.0 518.1 L261.6 519.4 L263.3 520.6 L265.0 521.8 L266.8 523.0 L268.6 524.2 L270.5 524.6" fill="none" stroke="#000" stroke-width="1.15" stroke-linejoin="round"/>
<path d="M160.6 201.3 L161.0 203.2 L161.5 205.2 L161.9 207.1 L162.4 209.1 L162.9 211.1 L163.4 213.1 L163.8 215.1 L164.3 217.1 L164.8 219.0 L165.2 221.0 L165.7 223.0 L166.1 225.0 L166.6 227.0 L167.0 229.0 L167.5 230.9 L167.9 232.9 L168.3 234.9 L168.8 236.9 L169.2 238.9 L169.6 240.8 L170.0 242.8 L170.5 244.8 L170.9 246.8 L171.3 248.8 L171.7 250.8 L172.1 252.7 L172.5 254.7 L172.9 256.7 L173.3 258.7 L173.7 260.6 L174.1 262.6 L174.5 264.6 L174.9 266.6 L175.3 268.6 L175.7 270.5 L176.1 272.5 L176.5 274.5 L176.9 276.5 L177.3 278.4 L177.7 280.4 L178.1 282.4 L178.5 284.4 L178.9 286.3 L179.3 288.3 L179.7 290.3 L180.1 292.3 L180.5 294.2 L180.9 296.2 L181.3 298.2 L181.7 300.2 L182.0 302.1 L182.4 304.1 L182.8 306.1 L183.2 308.0 L183.6 310.0 L184.0 312.0 L184.4 314.0 L184.8 315.9 L185.2 317.9 L185.6 319.9 L186.0 321.8 L186.5 323.8 L186.9 325.8 L187.3 327.7 L187.7 329.7 L188.1 331.7 L188.5 333.6 L188.9 335.6 L189.4 337.6 L189.8 339.5 L190.2 341.5 L190.7 343.5 L191.1 345.4 L191.5 347.4 L192.0 349.4 L192.4 351.3 L192.8 353.3 L193.3 355.3 L193.8 357.2 L194.2 359.2 L194.7 361.1 L195.1 363.1 L195.6 365.1 L196.1 367.0 L196.5 369.0 L197.0 370.9 L197.5 372.9 L198.0 374.9 L198.5 376.8 L199.0 378.8 L199.5 380.7 L200.0 382.7 L200.5 384.6 L201.0 386.6 L201.5 388.5 L202.1 390.5 L202.6 392.4 L203.1 394.4 L203.7 396.4 L204.2 398.3 L204.8 400.3 L205.4 402.2 L205.9 404.2 L206.5 406.1 L207.1 408.1 L207.7 410.0 L208.3 412.0 L208.8 413.9 L209.5 415.9 L210.1 417.8 L210.7 419.7 L211.3 421.7 L211.9 423.6 L212.6 425.6 L213.2 427.5 L213.9 429.5 L214.5 431.4 L215.2 433.3 L215.9 435.3 L216.6 437.2 L217.3 439.2 L218.0 441.1 L218.7 443.0 L219.4 444.9 L220.2 446.9 L220.9 448.8 L221.7 450.7 L222.4 452.6 L223.2 454.5 L224.0 456.3 L224.8 458.2 L225.7 460.1 L226.5 461.9 L227.4 463.8 L228.2 465.6 L229.1 467.4 L230.0 469.2 L231.0 471.0 L231.9 472.8 L232.9 474.5 L233.9 476.3 L234.9 478.0 L235.9 479.7 L236.9 481.4 L238.0 483.1 L239.1 484.8 L240.2 486.4 L241.3 488.0 L242.5 489.6 L243.7 491.2 L244.9 492.8 L246.1 494.3 L247.3 495.8 L248.6 497.3 L249.9 498.8 L251.2 500.2 L252.6 501.6 L254.0 503.0 L255.4 504.4 L256.8 505.7 L258.3 507.0 L259.8 508.3 L261.3 509.5 L262.9 510.7 L264.5 511.8 L266.1 513.0 L267.7 514.1 L269.4 515.1 L271.1 516.1 L272.9 517.1 L274.7 518.0 L276.5 518.9 L278.3 519.8 L280.2 520.6 L282.1 521.4 L284.1 522.1 L286.1 522.8 L288.1 523.4 L290.2 524.0 L292.3 524.5 L294.5 524.6" fill="none" stroke="#000" stroke-width="1.15" stroke-linejoin="round"/>
</svg>
</body></html>
